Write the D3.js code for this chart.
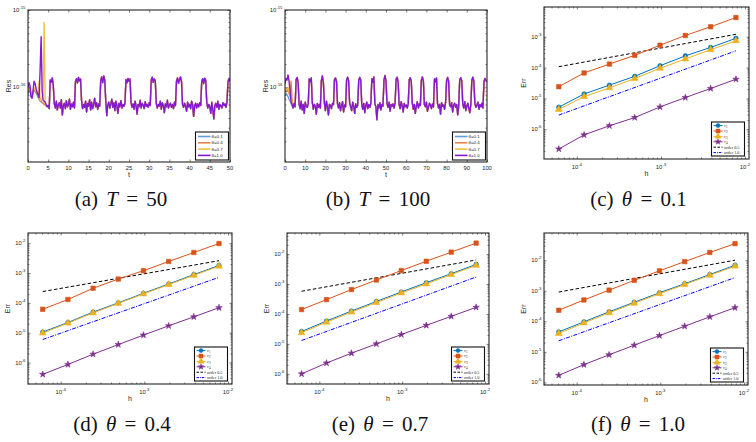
<!DOCTYPE html>
<html>
<head>
<meta charset="utf-8">
<script src="https://cdn.jsdelivr.net/npm/d3@7"></script>
<style>
body { margin: 0; background: #fff; }
svg { display: block; }
text { font-family: "Liberation Sans", Arial, sans-serif; fill: #262626; }
</style>
</head>
<body>
<script>
// ---------- data ----------
var thetaLabels = ["θ=0.1", "θ=0.4", "θ=0.7", "θ=1.0"];

// residual history, units of 1e-17
// (a) T = 50, sampled every 0.25
var dtA = 0.25;
var resA01 = [8.2, 9.0, 8.8, 8.0, 7.6, 8.4, 9.2, 8.8, 8.5, 8.0, 7.4, 7.0, 6.6, 6.5, 6.3, 6.2, 6.0, 5.9, 5.7, 5.6];
var resA04 = [9.0, 9.6, 9.0, 8.2, 7.8, 8.8, 9.4, 9.0, 8.6, 8.2, 7.6, 7.2, 6.8, 6.6, 6.4, 6.2, 6.1, 5.9, 5.8, 5.6];
var resA07 = [9.4, 10.0, 9.5, 8.6, 8.0, 9.0, 9.8, 9.4, 9.0, 8.6, 8.2, 12.0, 7.0, 6.8, 7.5, 8.0, 69, 6.2, 5.9, 5.7];
var resA10 = [10.0, 11.5, 10.5, 7.5, 7.2, 9.0, 12.0, 11.2, 9.6, 8.6, 8.0, 7.4, 17.0, 45, 9.0, 6.8, 6.6, 6.4, 6.0, 5.6];
var resAtail = [
  5.8, 5.3, 12.4, 11.6,  13.2, 10.8, 6.2, 5.4,  6.6, 5.1, 5.9, 6.3,  5.4, 6.9, 4.4, 5.8,
  6.2, 5.3, 6.7, 5.6,  5.9, 7.0, 5.2, 6.1,  5.6, 6.4, 5.4, 11.8,  12.9, 11.4, 13.4, 12.1,
  12.8, 6.8, 5.3, 6.0,  5.5, 6.6, 4.8, 6.2,  5.7, 6.9, 5.1, 6.4,  5.3, 6.0, 7.2, 5.6,
  6.3, 5.2, 6.1, 5.7,  12.2, 13.6, 11.5, 14.0,  12.4, 6.6, 4.3, 5.9,  6.4, 5.4, 6.1, 7.0,
  5.5, 6.3, 5.0, 6.6,  5.8, 4.6, 6.2, 5.6,  6.7, 5.4, 6.0, 5.7,  6.2, 12.6, 11.4, 13.0,
  12.0, 12.8, 6.4, 5.5,  6.1, 5.2, 6.6, 5.8,  4.5, 6.0, 5.6, 6.8,  5.4, 6.2, 5.9, 5.3,
  6.5, 5.7, 6.0, 5.5,  6.3, 5.8, 12.4, 13.5,  11.6, 12.8, 12.2, 6.2,  5.4, 6.0, 5.7, 6.6,
  5.2, 6.3, 5.8, 4.7,  6.1, 5.6, 6.8, 5.4,  5.9, 6.2, 5.5, 6.0,  5.3, 6.4, 5.8, 12.0,
  13.2, 11.3, 12.6, 13.6,  11.8, 6.0, 5.5, 6.2,  5.7, 4.9, 6.4, 5.6,  6.0, 5.3, 6.6, 5.9,
  4.2, 5.8, 6.2, 5.4,  6.1, 5.6, 6.3, 5.8,  11.9, 12.9, 11.2, 13.1,  12.3, 6.3, 5.4, 6.0,
  5.6, 4.6, 6.4, 5.1,  3.9, 5.8, 6.2, 5.5,  6.6, 5.2, 6.0, 5.7,  5.4, 6.3, 5.8, 6.1,
  5.5, 6.4, 11.8, 13.0,  12.0
];

// (b) T = 100, sampled every 0.5
var dtB = 0.5;
var resB01 = [7.8, 8.4, 8.0, 7.6, 7.0, 6.6, 6.2, 5.8];
var resB04 = [8.6, 9.2, 8.8, 9.5, 8.2, 7.8, 12.0, 7.0];
var resB07 = [9.0, 9.6, 9.4, 10.0, 8.8, 7.6, 7.0, 6.4];
var resB10 = [11.0, 13.0, 12.4, 14.5, 12.0, 9.0, 6.5, 6.0];
var resBtail = [
  5.4, 6.2,  5.6, 12.6,  13.4, 11.6,  6.0, 5.3,  6.6, 5.1,  6.0, 4.6,  6.4, 5.7,  5.5, 6.1,
  12.8, 11.8,  13.2, 6.4,  5.2, 6.0,  5.7, 4.5,  6.2, 5.5,  6.0, 5.4,  12.2, 14.0,  11.5, 6.3,
  5.0, 6.6,  5.6, 4.4,  6.0, 5.8,  5.3, 6.2,  6.0, 12.6,  13.2, 11.9,  6.1, 5.4,  6.3, 5.0,
  5.8, 6.5,  4.8, 5.9,  5.6, 12.4,  13.5, 12.0,  6.2, 5.6,  5.0, 6.4,  5.7, 4.6,  6.1, 5.5,
  5.9, 12.2,  13.4, 12.4,  6.0, 5.2,  6.2, 4.7,  5.8, 6.4,  5.3, 6.0,  5.5, 6.2,  12.9, 11.6,
  13.6, 6.1,  5.6, 3.8,  6.0, 5.4,  6.3, 5.1,  6.0, 5.7,  12.4, 14.2,  12.0, 6.2,  5.5, 6.4,
  4.9, 6.0,  5.7, 6.1,  5.4, 6.3,  12.7, 13.5,  11.8, 6.0,  5.3, 6.5,  5.8, 4.8,  6.2, 5.6,
  5.9, 5.4,  6.1, 12.5,  13.3, 11.9,  6.3, 5.2,  6.0, 4.6,  5.7, 6.5,  5.4, 6.1,  5.8, 12.3,
  13.6, 12.1,  6.0, 5.6,  6.4, 4.9,  5.5, 6.2,  5.9, 5.3,  6.1, 5.6,  12.8, 11.7,  13.2, 6.2,
  5.4, 6.0,  4.5, 6.3,  5.7, 5.9,  5.2, 6.4,  12.1, 13.4,  11.9, 6.0,  5.6, 6.3,  4.8, 5.9,
  6.2, 5.5,  6.0, 4.4,  5.8, 12.6,  13.3, 12.2,  6.1, 5.4,  6.5, 5.0,  5.7, 6.2,  5.3, 4.7,
  6.0, 12.4,  13.5, 11.8,  6.2, 5.5,  5.9, 6.4,  5.2, 6.0,  5.6, 6.2,  5.4, 11.9,  13.0, 12.2,
  11.8
];

// convergence data, mesh sizes h
var hVals = [6.1035e-5, 1.2207e-4, 2.4414e-4, 4.8828e-4, 9.7656e-4, 1.9531e-3, 3.9063e-3, 7.8125e-3];
var hRef = [6.1035e-5, 7.8125e-3];
var errLabels = ["v1", "v2", "v3", "v4", "order 0.5", "order 1.0"];

// (c) theta = 0.1
var errC1 = [5.2e-6, 1.4e-5, 2.7e-5, 5.2e-5, 1.15e-4, 2.4e-4, 4.5e-4, 8.9e-4];
var errC2 = [2.4e-5, 6.7e-5, 1.3e-4, 2.5e-4, 5.3e-4, 1.1e-3, 2.1e-3, 4.2e-3];
var errC3 = [4.4e-6, 1.15e-5, 2.2e-5, 4.4e-5, 9.5e-5, 1.9e-4, 3.8e-4, 7.4e-4];
var errC4 = [2.3e-7, 6.6e-7, 1.3e-6, 2.4e-6, 5.3e-6, 1.07e-5, 2.1e-5, 4.2e-5];
var ordC05 = [1.07e-4, 1.2e-3];
var ordC10 = [2.9e-6, 3.5e-4];
// (d) theta = 0.4
var errD1 = [1.05e-5, 2.2e-5, 4.9e-5, 1.0e-4, 2.1e-4, 4.3e-4, 8.9e-4, 1.8e-3];
var errD2 = [6.1e-5, 1.3e-4, 3.1e-4, 6.3e-4, 1.2e-3, 2.45e-3, 4.9e-3, 9.8e-3];
var errD3 = [9.7e-6, 2.1e-5, 4.6e-5, 9.6e-5, 2.0e-4, 4.1e-4, 8.4e-4, 1.7e-3];
var errD4 = [4.0e-7, 8.6e-7, 1.9e-6, 4.0e-6, 8.3e-6, 1.7e-5, 3.4e-5, 6.9e-5];
var ordD05 = [2.4e-4, 2.6e-3];
var ordD10 = [5.9e-6, 7.2e-4];
// (e) theta = 0.7
var errE1 = [2.6e-5, 5.8e-5, 1.25e-4, 2.6e-4, 5.4e-4, 1.1e-3, 2.2e-3, 4.5e-3];
var errE2 = [1.4e-4, 3.0e-4, 6.5e-4, 1.35e-3, 2.8e-3, 5.7e-3, 1.15e-2, 2.3e-2];
var errE3 = [2.35e-5, 5.3e-5, 1.15e-4, 2.4e-4, 5.0e-4, 1.0e-3, 2.05e-3, 4.15e-3];
var errE4 = [1.0e-6, 2.3e-6, 4.9e-6, 1.0e-5, 2.05e-5, 4.15e-5, 8.3e-5, 1.66e-4];
var ordE05 = [5.7e-4, 6.3e-3];
var ordE10 = [1.3e-5, 1.7e-3];
// (f) theta = 1.0
var errF1 = [4.5e-5, 9.6e-5, 2.05e-4, 4.2e-4, 8.6e-4, 1.7e-3, 3.4e-3, 6.9e-3];
var errF2 = [2.3e-4, 5.0e-4, 1.05e-3, 2.2e-3, 4.5e-3, 9.0e-3, 1.8e-2, 3.5e-2];
var errF3 = [4.0e-5, 8.8e-5, 1.9e-4, 3.9e-4, 8.0e-4, 1.6e-3, 3.2e-3, 6.4e-3];
var errF4 = [1.7e-6, 3.8e-6, 8.0e-6, 1.65e-5, 3.4e-5, 6.9e-5, 1.4e-4, 2.8e-4];
var ordF05 = [9.1e-4, 1.0e-2];
var ordF10 = [2.3e-5, 2.7e-3];

// ---------- styling ----------
var resColors = ["#5a9fd8", "#e8864a", "#f2bf45", "#8618d4"];
var errColors = ["#0072BD", "#D95319", "#EDB120", "#7E2F8E"];
var errSymbols = [d3.symbolCircle, d3.symbolSquare, d3.symbolTriangle, d3.symbolStar];
var errSymSize = [16, 20, 20, 13];
var axisCol = "#262626";

var svg = d3.select("body").append("svg")
  .attr("width", 756)
  .attr("height", 442);

// superscript power-of-ten label
function powLabel(sel, v) {
  var e = Math.round(Math.log10(v));
  sel.append("tspan").text("10");
  sel.append("tspan").attr("dy", -3).attr("font-size", 4.3).text(e < 0 ? "-" + (-e) : e);
}

// box with mirrored inward ticks
function frame(g, x, y, xMaj, xMin, yMaj, yMin) {
  var w = x.range()[1], h = y.range()[0];
  function ax(gen, tv, len, tr) {
    var a = g.append("g").attr("transform", tr)
      .call(gen.tickValues(tv).tickSize(-len).tickFormat(""));
    a.select(".domain").remove();
    a.selectAll("line").attr("stroke", axisCol).attr("stroke-width", 0.6);
  }
  [[xMaj, 2.5], [xMin, 1.5]].forEach(function(p) {
    ax(d3.axisBottom(x), p[0], p[1], "translate(0," + h + ")");
    ax(d3.axisTop(x), p[0], p[1], "translate(0,0)");
  });
  [[yMaj, 2.5], [yMin, 1.5]].forEach(function(p) {
    ax(d3.axisLeft(y), p[0], p[1], "translate(0,0)");
    ax(d3.axisRight(y), p[0], p[1], "translate(" + w + ",0)");
  });
  g.append("rect").attr("width", w).attr("height", h)
    .attr("fill", "none").attr("stroke", axisCol).attr("stroke-width", 1.1);
}

function splitLog(scale) {
  var all = scale.ticks();
  var maj = all.filter(function(v) { return Math.abs(Math.log10(v) - Math.round(Math.log10(v))) < 1e-6; });
  var min = all.filter(function(v) { return maj.indexOf(v) < 0; });
  return [maj, min];
}

function caption(cx, cy, letter, sym, val) {
  var t = svg.append("text").attr("x", cx).attr("y", cy)
    .attr("text-anchor", "middle")
    .style("font-family", "'Liberation Serif', 'Times New Roman', serif")
    .style("font-size", "21px").style("fill", "#111")
    .style("word-spacing", "3px");
  t.append("tspan").text("(" + letter + ") ");
  t.append("tspan").style("font-style", "italic").text(sym);
  t.append("tspan").text(" = " + val);
}

// ---------- residual panels ----------
var resPanels = [
  { x0: 28, x1: 230, y0: 10, y1: 162, tMax: 50, tStep: 5, dt: dtA, letter: "a", val: "50",
    series: [resA01.concat(resAtail), resA04.concat(resAtail), resA07.concat(resAtail), resA10.concat(resAtail)] },
  { x0: 285, x1: 487, y0: 10, y1: 162, tMax: 100, tStep: 10, dt: dtB, letter: "b", val: "100",
    series: [resB01.concat(resBtail), resB04.concat(resBtail), resB07.concat(resBtail), resB10.concat(resBtail)] }
];

resPanels.forEach(function(p) {
  var w = p.x1 - p.x0, h = p.y1 - p.y0;
  var g = svg.append("g").attr("transform", "translate(" + p.x0 + "," + p.y0 + ")");
  var x = d3.scaleLinear().domain([0, p.tMax]).range([0, w]);
  var y = d3.scaleLog().domain([1.08e-17, 1e-15]).range([h, 0]);
  var xt = d3.range(0, p.tMax + 0.1, p.tStep);
  var yt = splitLog(y);

  var clip = "clip" + p.letter;
  g.append("clipPath").attr("id", clip).append("rect").attr("width", w).attr("height", h);
  var line = d3.line()
    .x(function(d, i) { return x(i * p.dt); })
    .y(function(d) { return y(d * 1e-17); });
  g.append("g").attr("clip-path", "url(#" + clip + ")")
    .selectAll("path").data(p.series).enter().append("path")
    .attr("d", line)
    .attr("fill", "none")
    .attr("stroke", function(d, i) { return resColors[i]; })
    .attr("stroke-width", 1.4)
    .attr("stroke-linejoin", "round");

  frame(g, x, y, xt, [], yt[0], yt[1]);

  g.selectAll(".xl").data(xt).enter().append("text")
    .attr("x", function(d) { return x(d); }).attr("y", h + 7.5)
    .attr("text-anchor", "middle").attr("font-size", 5.8).text(function(d) { return d; });
  yt[0].forEach(function(v) {
    var t = g.append("text").attr("x", -2.5).attr("y", y(v) + 2)
      .attr("text-anchor", "end").attr("font-size", 5.8);
    powLabel(t, v);
  });
  g.append("text").attr("x", w / 2).attr("y", h + 15).attr("text-anchor", "middle")
    .attr("font-size", 7).text("t");
  g.append("text").attr("transform", "translate(-17," + (h / 2) + ") rotate(-90)")
    .attr("text-anchor", "middle").attr("font-size", 7).text("Res");

  // legend
  var lw = 33, lh = 28;
  var lg = g.append("g").attr("transform", "translate(" + (w - lw - 1.5) + "," + (h - lh - 2) + ")");
  lg.append("rect").attr("width", lw).attr("height", lh).attr("fill", "#fff")
    .attr("stroke", "#111").attr("stroke-width", 1.1);
  thetaLabels.forEach(function(lab, i) {
    var yy = 4.5 + i * 6.3;
    lg.append("line").attr("x1", 2.5).attr("x2", 15).attr("y1", yy).attr("y2", yy)
      .attr("stroke", resColors[i]).attr("stroke-width", 1.6);
    lg.append("text").attr("x", 16).attr("y", yy + 1.5).attr("font-size", 4.4).text(lab);
  });

  caption((p.x0 + p.x1) / 2 - 8, 206, p.letter, "T", p.val);
});

// ---------- convergence panels ----------
var errPanels = [
  { x0: 544, x1: 749, y0: 7, y1: 159, yDom: [1.09e-7, 9.2e-3], letter: "c", val: "0.1", cy: 206,
    errs: [errC1, errC2, errC3, errC4], o05: ordC05, o10: ordC10 },
  { x0: 28, x1: 232, y0: 233, y1: 384, yDom: [1.9e-7, 2.21e-2], letter: "d", val: "0.4", cy: 431,
    errs: [errD1, errD2, errD3, errD4], o05: ordD05, o10: ordD10 },
  { x0: 287, x1: 489, y0: 233, y1: 384, yDom: [4.6e-7, 5.0e-2], letter: "e", val: "0.7", cy: 431,
    errs: [errE1, errE2, errE3, errE4], o05: ordE05, o10: ordE10 },
  { x0: 544, x1: 748, y0: 233, y1: 385, yDom: [8.2e-7, 7.8e-2], letter: "f", val: "1.0", cy: 431,
    errs: [errF1, errF2, errF3, errF4], o05: ordF05, o10: ordF10 }
];

errPanels.forEach(function(p) {
  var w = p.x1 - p.x0, h = p.y1 - p.y0;
  var g = svg.append("g").attr("transform", "translate(" + p.x0 + "," + p.y0 + ")");
  var x = d3.scaleLog().domain([4.07e-5, 1.117e-2]).range([0, w]);
  var y = d3.scaleLog().domain(p.yDom).range([h, 0]);
  var xt = splitLog(x), yt = splitLog(y);

  var line = d3.line()
    .x(function(d) { return x(d[0]); })
    .y(function(d) { return y(d[1]); });

  // reference slopes
  g.append("path").datum(d3.zip(hRef, p.o05)).attr("d", line)
    .attr("fill", "none").attr("stroke", "#000").attr("stroke-width", 1)
    .attr("stroke-dasharray", "3.5,2.2");
  g.append("path").datum(d3.zip(hRef, p.o10)).attr("d", line)
    .attr("fill", "none").attr("stroke", "#0000ff").attr("stroke-width", 1)
    .attr("stroke-dasharray", "4,1.4,1,1.4");

  p.errs.forEach(function(vals, k) {
    var pts = d3.zip(hVals, vals);
    g.append("path").datum(pts).attr("d", line)
      .attr("fill", "none").attr("stroke", errColors[k]).attr("stroke-width", 1);
    g.selectAll(".m" + k).data(pts).enter().append("path")
      .attr("transform", function(d) { return "translate(" + x(d[0]) + "," + y(d[1]) + ")"; })
      .attr("d", d3.symbol().type(errSymbols[k]).size(errSymSize[k]))
      .attr("fill", errColors[k]).attr("stroke", errColors[k]).attr("stroke-width", 0.6);
  });

  frame(g, x, y, xt[0], xt[1], yt[0], yt[1]);

  xt[0].forEach(function(v) {
    var t = g.append("text").attr("x", x(v)).attr("y", h + 9.5)
      .attr("text-anchor", "middle").attr("font-size", 5.8);
    powLabel(t, v);
  });
  yt[0].forEach(function(v) {
    var t = g.append("text").attr("x", -2.5).attr("y", y(v) + 2)
      .attr("text-anchor", "end").attr("font-size", 5.8);
    powLabel(t, v);
  });
  g.append("text").attr("x", w / 2).attr("y", h + 16.5).attr("text-anchor", "middle")
    .attr("font-size", 7).text("h");
  g.append("text").attr("transform", "translate(-18," + (h / 2) + ") rotate(-90)")
    .attr("text-anchor", "middle").attr("font-size", 7).text("Err");

  // legend
  var lw = 33, lh = 34;
  var lg = g.append("g").attr("transform", "translate(" + (w - lw - 4.5) + "," + (h - lh - 3) + ")");
  lg.append("rect").attr("width", lw).attr("height", lh).attr("fill", "#fff")
    .attr("stroke", "#111").attr("stroke-width", 1.1);
  errLabels.forEach(function(lab, i) {
    var yy = 3.6 + i * 5.4;
    var ln = lg.append("line").attr("x1", 2).attr("x2", 11).attr("y1", yy).attr("y2", yy)
      .attr("stroke-width", 1);
    if (i < 4) {
      ln.attr("stroke", errColors[i]);
      lg.append("path").attr("transform", "translate(6.5," + yy + ")")
        .attr("d", d3.symbol().type(errSymbols[i]).size(errSymSize[i] * 0.8))
        .attr("fill", errColors[i]).attr("stroke", errColors[i]).attr("stroke-width", 0.5);
      var t = lg.append("text").attr("x", 12.5).attr("y", yy + 1.4).attr("font-size", 4.3)
        .style("font-family", "'Liberation Serif', serif").style("font-style", "italic");
      t.append("tspan").text(lab.charAt(0));
      t.append("tspan").attr("dy", 0.8).attr("font-size", 3.2).style("font-style", "normal").text(lab.charAt(1));
    } else {
      ln.attr("stroke", i == 4 ? "#000" : "#0000ff")
        .attr("stroke-dasharray", i == 4 ? "2.5,1.5" : "2.5,1,0.8,1");
      lg.append("text").attr("x", 12.5).attr("y", yy + 1.4).attr("font-size", 4.3)
        .style("font-family", "'Liberation Serif', serif").text(lab);
    }
  });

  caption((p.x0 + p.x1) / 2 - 8, p.cy, p.letter, "θ", p.val);
});
</script>
</body>
</html>
